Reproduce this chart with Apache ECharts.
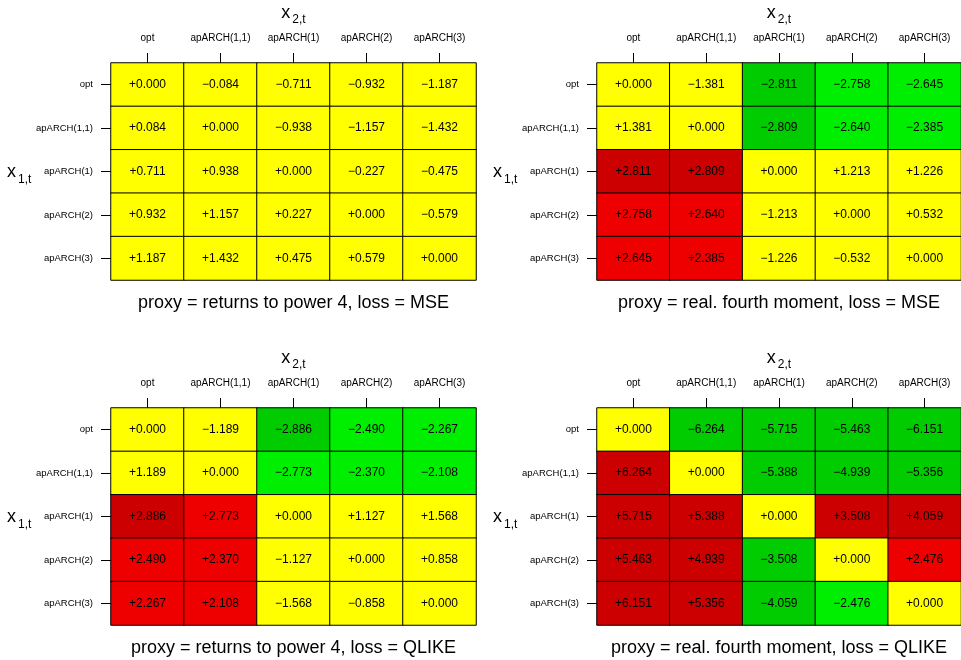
<!DOCTYPE html>
<html><head><meta charset="utf-8">
<script src="https://cdn.jsdelivr.net/npm/echarts@6/dist/echarts.min.js"></script>
<style>html,body{margin:0;padding:0;background:#fff}#c{width:961px;height:660px}</style>
</head><body><div id="c"></div>
<script>
const categories = ['opt', 'apARCH(1,1)', 'apARCH(1)', 'apARCH(2)', 'apARCH(3)'];
const panelTitles = [
  'proxy = returns to power 4, loss = MSE',
  'proxy = real. fourth moment, loss = MSE',
  'proxy = returns to power 4, loss = QLIKE',
  'proxy = real. fourth moment, loss = QLIKE'
];
// rows = x1,t ; columns = x2,t
const mseReturns = [
  [0.000, -0.084, -0.711, -0.932, -1.187],
  [0.084, 0.000, -0.938, -1.157, -1.432],
  [0.711, 0.938, 0.000, -0.227, -0.475],
  [0.932, 1.157, 0.227, 0.000, -0.579],
  [1.187, 1.432, 0.475, 0.579, 0.000]
];
const mseRealized = [
  [0.000, -1.381, -2.811, -2.758, -2.645],
  [1.381, 0.000, -2.809, -2.640, -2.385],
  [2.811, 2.809, 0.000, 1.213, 1.226],
  [2.758, 2.640, -1.213, 0.000, 0.532],
  [2.645, 2.385, -1.226, -0.532, 0.000]
];
const qlikeReturns = [
  [0.000, -1.189, -2.886, -2.490, -2.267],
  [1.189, 0.000, -2.773, -2.370, -2.108],
  [2.886, 2.773, 0.000, 1.127, 1.568],
  [2.490, 2.370, -1.127, 0.000, 0.858],
  [2.267, 2.108, -1.568, -0.858, 0.000]
];
const qlikeRealized = [
  [0.000, -6.264, -5.715, -5.463, -6.151],
  [6.264, 0.000, -5.388, -4.939, -5.356],
  [5.715, 5.388, 0.000, 3.508, 4.059],
  [5.463, 4.939, -3.508, 0.000, 2.476],
  [6.151, 5.356, -4.059, -2.476, 0.000]
];
const matrices = [mseReturns, mseRealized, qlikeReturns, qlikeRealized];

const FONT = '"Liberation Sans", Arial, Helvetica, sans-serif';
const grids = [
  {left: 111, top: 63, width: 365, height: 217},
  {left: 597, top: 63, width: 364, height: 217},
  {left: 111, top: 408, width: 365, height: 217},
  {left: 597, top: 408, width: 364, height: 217}
];
const fmt = v => (v >= 0 ? '+' : '\u2212') + Math.abs(v).toFixed(3);

const rich = {
  x: {fontSize: 18, fontWeight: 'normal', fontFamily: FONT, color: '#000', verticalAlign: 'bottom', lineHeight: 20},
  s: {fontSize: 12, fontWeight: 'normal', fontFamily: FONT, color: '#000', verticalAlign: 'bottom', lineHeight: 14, padding: [0,0,-4,2]}
};

const xAxis = [], yAxis = [], series = [], title = [];
grids.forEach((g, k) => {
  xAxis.push({
    type: 'category', gridIndex: k, data: categories, position: 'top',
    axisLine: {show: false},
    axisTick: {show: true, alignWithLabel: true, length: 10, lineStyle: {color: '#000'}},
    axisLabel: {fontSize: 10, fontFamily: FONT, color: '#000', margin: 20, interval: 0},
    splitLine: {show: false}
  });
  yAxis.push({
    type: 'category', gridIndex: k, data: categories, inverse: true,
    axisLine: {show: false},
    axisTick: {show: true, alignWithLabel: true, length: 10, lineStyle: {color: '#000'}},
    axisLabel: {fontSize: 9.5, fontFamily: FONT, color: '#000', margin: 18, interval: 0},
    splitLine: {show: false}
  });
  const data = [];
  matrices[k].forEach((row, i) => row.forEach((v, j) => data.push([j, i, v])));
  series.push({
    type: 'heatmap', xAxisIndex: k, yAxisIndex: k, data: data,
    itemStyle: {borderColor: '#000', borderWidth: 1},
    label: {show: true, color: '#000', fontSize: 12, fontFamily: FONT,
      formatter: p => fmt(p.value[2])},
    emphasis: {disabled: true}
  });
  const cx = g.left + g.width / 2;
  title.push({
    text: '{x|x}{s|2,t}', left: cx, top: g.top - 61, textAlign: 'center', padding: 0,
    textStyle: {rich: rich}
  });
  title.push({
    text: '{x|x}{s|1,t}', left: g.left - 104, top: g.top + g.height / 2 - 10, padding: 0,
    textStyle: {rich: rich}
  });
  title.push({
    text: panelTitles[k], left: cx, top: g.top + g.height + 14, textAlign: 'center', padding: 0,
    textStyle: {fontSize: 18, fontWeight: 'normal', fontFamily: FONT, color: '#000'}
  });
});

const chart = echarts.init(document.getElementById('c'), null, {renderer: 'canvas'});
chart.setOption({
  animation: false,
  backgroundColor: '#fff',
  title: title,
  grid: grids,
  xAxis: xAxis,
  yAxis: yAxis,
  visualMap: {
    type: 'piecewise', show: false, seriesIndex: [0, 1, 2, 3], dimension: 2,
    pieces: [
      {lt: -2.807, color: '#00CC00'},
      {gte: -2.807, lt: -1.96, color: '#00EE00'},
      {gte: -1.96, lte: 1.96, color: '#FFFF00'},
      {gt: 1.96, lte: 2.807, color: '#EE0000'},
      {gt: 2.807, color: '#CC0000'}
    ]
  },
  series: series
});
</script></body></html>
